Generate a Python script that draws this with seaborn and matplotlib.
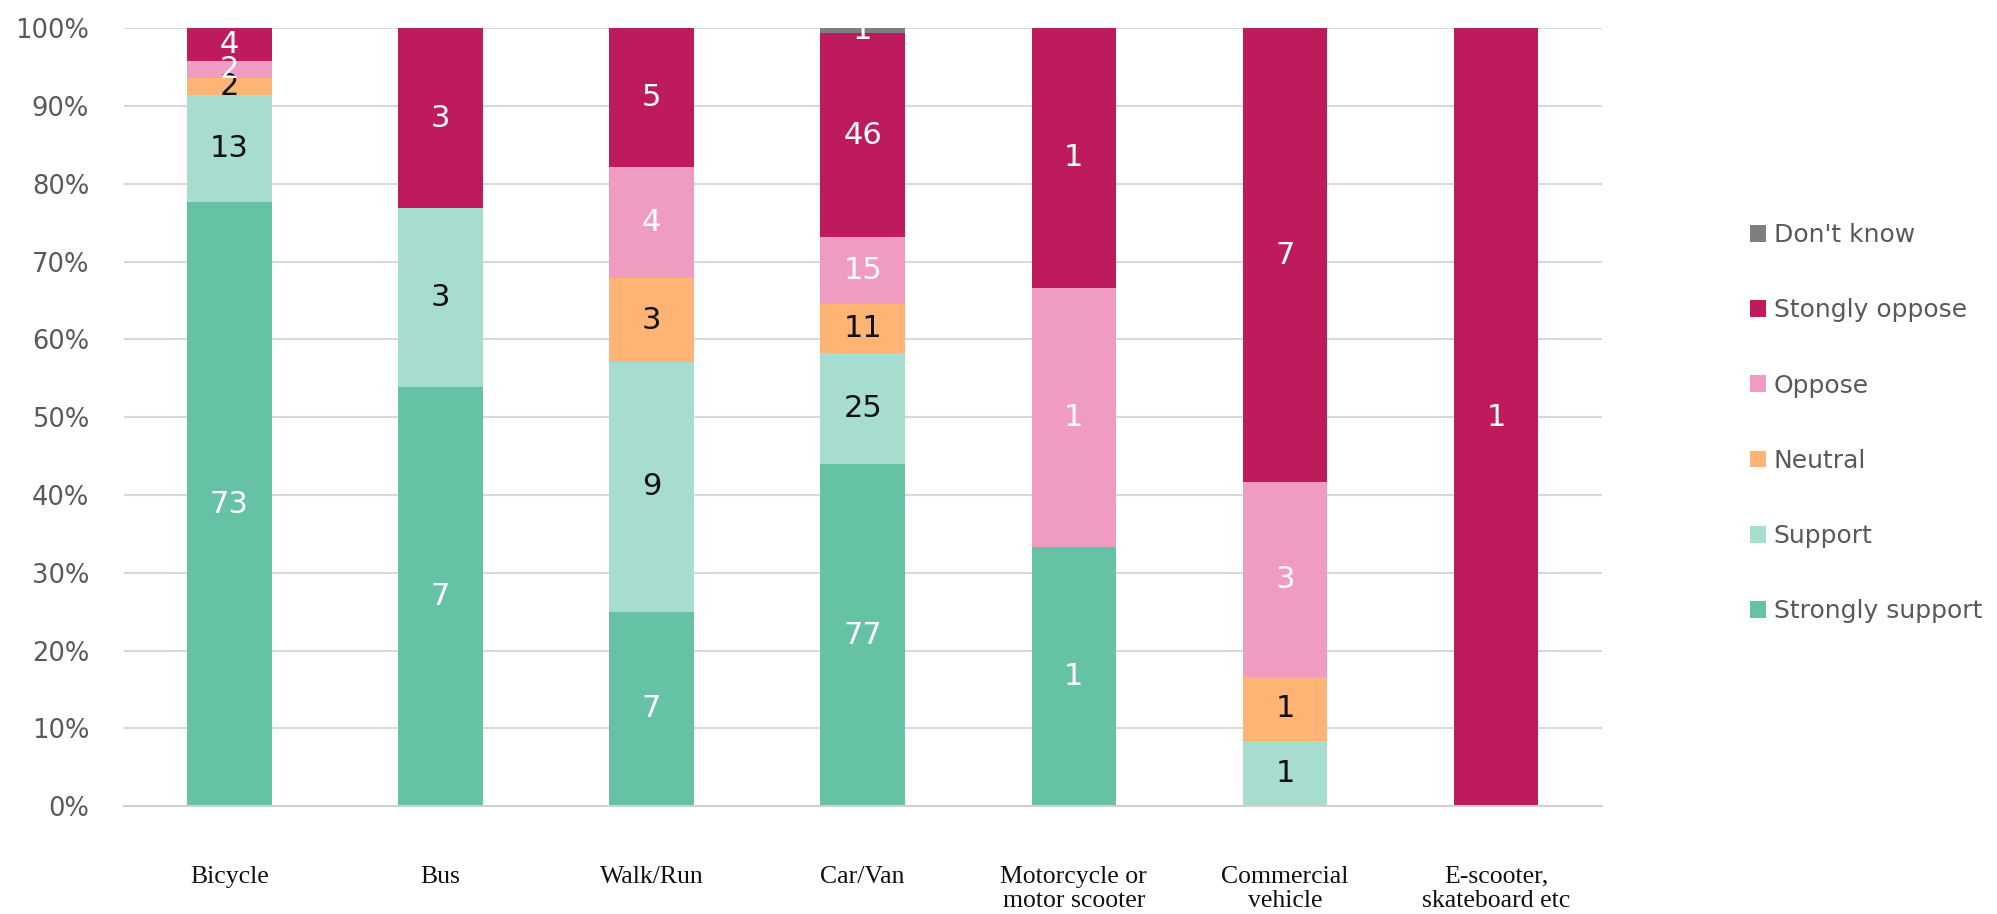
import numpy as np
import pandas as pd
import matplotlib
matplotlib.use("Agg")
import matplotlib.pyplot as plt
import seaborn as sns
from matplotlib.ticker import PercentFormatter
from matplotlib.patches import Patch

categories = ["Bicycle", "Bus", "Walk/Run", "Car/Van", "Motorcycle or\nmotor scooter",
              "Commercial\nvehicle", "E-scooter,\nskateboard etc"]
strongly_support = [73, 7, 7, 77, 1, 0, 0]
support = [13, 3, 9, 25, 0, 1, 0]
neutral = [2, 0, 3, 11, 0, 1, 0]
oppose = [2, 0, 4, 15, 1, 3, 0]
strongly_oppose = [4, 3, 5, 46, 1, 7, 1]
dont_know = [0, 0, 0, 1, 0, 0, 0]

series_names = ["Strongly support", "Support", "Neutral", "Oppose", "Stongly oppose", "Don't know"]
series_values = [strongly_support, support, neutral, oppose, strongly_oppose, dont_know]
series_colors = ["#66C2A5", "#A6DDCE", "#FDB474", "#F09BC2", "#BE1A5E", "#7F7F7F"]
label_colors = ["white", "#111111", "#111111", "white", "white", "white"]

sns.set_theme(style="white")
plt.rcParams["font.family"] = ["DejaVu Sans"]

counts = np.array(series_values, dtype=float)
totals = counts.sum(axis=0)
pct = counts / totals * 100

fig = plt.figure(figsize=(19.97, 9.14), dpi=100)
ax = fig.add_axes([0.062, 0.118, 0.740, 0.851])

bottom = np.zeros(len(categories))
for i, name in enumerate(series_names):
    df = pd.DataFrame({"cat": categories, "pct": pct[i]})
    sns.barplot(data=df, x="cat", y="pct", color=series_colors[i], bottom=bottom,
                width=0.4, ax=ax, saturation=1, linewidth=0, order=categories)
    cont = ax.containers[-1]
    labels = [str(int(v)) if v > 0 else "" for v in counts[i]]
    ax.bar_label(cont, labels=labels, label_type="center", color=label_colors[i],
                 fontsize=22)
    bottom = bottom + pct[i]

ax.set_ylim(0, 100)
ax.set_xlim(-0.5, len(categories) - 0.5)
ax.set_yticks(np.arange(0, 101, 10))
ax.yaxis.set_major_formatter(PercentFormatter(decimals=0))
ax.grid(axis="y", color="#D9D9D9", linewidth=1.5, zorder=0)
ax.set_axisbelow(True)
for s in ["top", "right", "left"]:
    ax.spines[s].set_visible(False)
ax.spines["bottom"].set_color("#D0D0D0")
ax.spines["bottom"].set_linewidth(1.5)
ax.set_xlabel("")
ax.set_ylabel("")
ax.tick_params(axis="y", labelsize=18.5, labelcolor="#595959", length=0, pad=25)
ax.tick_params(axis="x", length=0, pad=43)
for t in ax.get_xticklabels():
    t.set_fontfamily("Liberation Serif")
    t.set_fontsize(18.5)
    t.set_color("#111111")
    t.set_linespacing(1.12)

handles = [Patch(facecolor=series_colors[i], edgecolor="none") for i in range(len(series_names))][::-1]
leg = fig.legend(handles, series_names[::-1], loc="center left",
                 bbox_to_anchor=(0.865, 0.537), frameon=False, fontsize=18,
                 labelspacing=2.05, handlelength=0.65, handleheight=0.65,
                 handletextpad=0.3, labelcolor="#595959")

fig.savefig("out.png", dpi=100)
